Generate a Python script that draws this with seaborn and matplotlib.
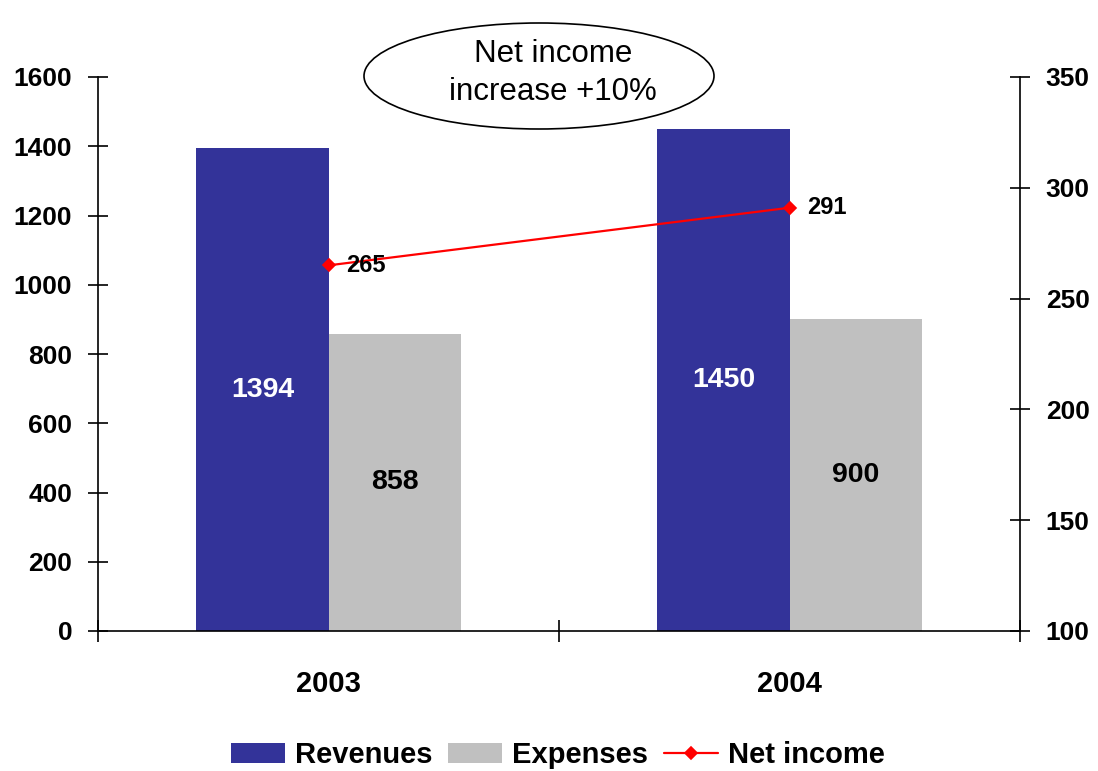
import matplotlib
matplotlib.use("Agg")
import matplotlib.pyplot as plt
from matplotlib.patches import Ellipse
import pandas as pd
import seaborn as sns

# Figures (millions)
years = ["2003", "2004"]
revenues = [1394, 1450]
expenses = [858, 900]
net_income = [265, 291]
left_ticks = [0, 200, 400, 600, 800, 1000, 1200, 1400, 1600]
right_ticks = [100, 150, 200, 250, 300, 350]
callout = "Net income\nincrease +10%"

sns.set_style("white")
plt.rcParams["font.family"] = ["Liberation Sans", "DejaVu Sans"]
plt.rcParams.update({"text.color": "black", "axes.labelcolor": "black",
                     "xtick.color": "black", "ytick.color": "black"})

bars = pd.DataFrame({
    "year": years * 2,
    "value": revenues + expenses,
    "series": ["Revenues"] * len(years) + ["Expenses"] * len(years),
})
line = pd.DataFrame({"year": years, "value": net_income})

fig = plt.figure(figsize=(10.98, 7.71), dpi=100)
ax = fig.add_axes([98 / 1098, 1 - 631 / 771, 922 / 1098, 554 / 771])

sns.barplot(data=bars, x="year", y="value", hue="series", order=years,
            hue_order=["Revenues", "Expenses"],
            palette=["#333399", "#C0C0C0"], width=0.573, gap=0,
            saturation=1, errorbar=None, linewidth=0, edgecolor="none",
            ax=ax)
bar_handles, bar_labels = ax.get_legend_handles_labels()
ax.get_legend().remove()

# value labels in the middle of each bar
ax.bar_label(ax.containers[0], label_type="center", color="white",
             fontsize=20.5, fontweight="bold")
ax.bar_label(ax.containers[1], label_type="center", color="black",
             fontsize=20.5, fontweight="bold")

ax.set_ylim(0, 1600)
ax.set_yticks(left_ticks)
ax.set_xlabel("")
ax.set_ylabel("")

ax2 = ax.twinx()
sns.pointplot(data=line, x="year", y="value", order=years, color="#FF0000",
              markers="D", linestyles="-", markersize=6.5, linewidth=1.6,
              errorbar=None, ax=ax2)
ax2.set_ylim(100, 350)
ax2.set_yticks(right_ticks)
ax2.set_ylabel("")
ax2.set_xlim(-0.5, len(years) - 0.5)
ax.set_xlim(-0.5, len(years) - 0.5)
for i, v in enumerate(net_income):
    ax2.annotate(str(v), (i, v), xytext=(13, 0), textcoords="offset points",
                 ha="left", va="center", fontsize=17, fontweight="bold")

# axes styling
for a in (ax, ax2):
    for s in a.spines.values():
        s.set_linewidth(1.2)
        s.set_color("black")
    a.spines["top"].set_visible(False)
ax.spines["right"].set_visible(False)
ax2.spines["left"].set_visible(False)
ax2.spines["bottom"].set_visible(False)

ax.tick_params(axis="y", left=True, direction="inout", length=15, width=1.2,
               pad=11, labelsize=19)
ax2.tick_params(axis="y", right=True, direction="inout", length=15,
                width=1.2, pad=11, labelsize=19)
for lab in ax.get_yticklabels() + ax2.get_yticklabels():
    lab.set_fontweight("bold")

ax.set_xticks([i - 0.5 for i in range(len(years) + 1)], minor=True)
ax.tick_params(axis="x", which="minor", bottom=True, direction="inout",
               length=16, width=1.2)
ax.tick_params(axis="x", which="major", bottom=True, length=0, pad=28,
               labelsize=21)
for lab in ax.get_xticklabels():
    lab.set_fontweight("bold")
ax2.tick_params(axis="x", which="both", length=0, labelbottom=False)

# legend along the bottom
line_handle = ax2.get_lines()[0]
fig.legend(bar_handles + [line_handle], bar_labels + ["Net income"],
           loc="center", bbox_to_anchor=(0.508, 1 - 755 / 771), ncol=3,
           frameon=False, prop={"size": 21, "weight": "bold"},
           handlelength=1.85, handleheight=0.69, handletextpad=0.34,
           columnspacing=0.55, borderaxespad=0)

# callout bubble
fig.add_artist(Ellipse((539 / 1098, 1 - 76 / 771), 350 / 1098, 106 / 771,
                       transform=fig.transFigure, facecolor="white",
                       edgecolor="black", linewidth=1.2, zorder=5))
fig.text(553 / 1098, 1 - 73 / 771, callout, ha="center", va="center",
         fontsize=22.5, linespacing=1.32, zorder=6)

fig.savefig("out.png", dpi=100)
